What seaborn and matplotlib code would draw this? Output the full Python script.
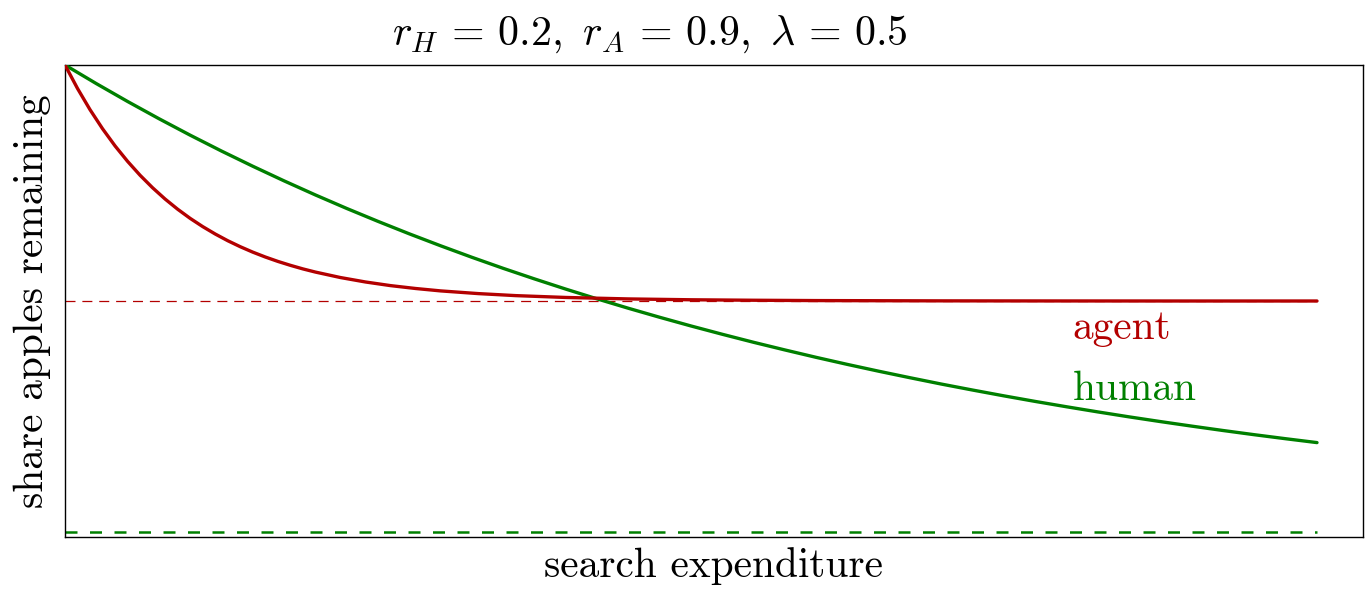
import matplotlib
matplotlib.use("Agg")
import matplotlib.pyplot as plt
import seaborn as sns
import numpy as np
import pandas as pd

# ---- data ----
human_x = [0.0, 0.25, 0.5, 0.75, 1.0, 1.25, 1.5, 1.75, 2.0, 2.25, 2.5, 2.75,
           3.0, 3.25, 3.5, 3.75, 4.0, 4.25, 4.5, 4.75, 5.0, 5.25, 5.5, 5.75,
           6.0, 6.25, 6.5, 6.75, 7.0, 7.25, 7.5, 7.75, 8.0, 8.25, 8.5, 8.75,
           9.0, 9.25, 9.5, 9.75, 10.0]
human_y = [1.0000, 0.9606, 0.9227, 0.8863, 0.8513, 0.8177, 0.7855, 0.7545,
           0.7247, 0.6961, 0.6687, 0.6423, 0.6170, 0.5926, 0.5692, 0.5468,
           0.5252, 0.5045, 0.4846, 0.4655, 0.4471, 0.4295, 0.4125, 0.3963,
           0.3806, 0.3656, 0.3512, 0.3374, 0.3240, 0.3113, 0.2990, 0.2872,
           0.2759, 0.2650, 0.2545, 0.2445, 0.2349, 0.2256, 0.2167, 0.2082,
           0.2000]

agent_x = [0.0, 0.1, 0.2, 0.3, 0.4, 0.5, 0.6, 0.7, 0.8, 0.9, 1.0, 1.1, 1.2,
           1.3, 1.4, 1.5, 1.6, 1.7, 1.8, 1.9, 2.0, 2.2, 2.4, 2.6, 2.8, 3.0,
           3.3, 3.6, 4.0, 4.5, 5.0, 5.5, 6.0, 7.0, 8.0, 9.0, 10.0]
agent_y = [1.0000, 0.9502, 0.9053, 0.8649, 0.8285, 0.7958, 0.7663, 0.7398,
           0.7159, 0.6944, 0.6750, 0.6576, 0.6419, 0.6277, 0.6150, 0.6035,
           0.5932, 0.5839, 0.5756, 0.5680, 0.5613, 0.5497, 0.5403, 0.5326,
           0.5265, 0.5214, 0.5157, 0.5114, 0.5075, 0.5044, 0.5026, 0.5016,
           0.5009, 0.5003, 0.5001, 0.5000, 0.5000]

agent_floor = 0.5
human_floor = 0.01
x_span = [0.0, 10.0]

title_text = r"$r_H\,=\,0.2,\ r_A\,=\,0.9,\ \lambda\,=\,0.5$"
xlabel_text = "search expenditure"
ylabel_text = "share apples remaining"
agent_label = "agent"
human_label = "human"

RED = "#b30000"
GREEN = "#008000"
FS = 29.7

sns.set_style("white")
plt.rcParams["font.family"] = ["cmr10", "DejaVu Serif"]
plt.rcParams["mathtext.fontset"] = "cm"
plt.rcParams["axes.formatter.use_mathtext"] = True
plt.rcParams["text.color"] = "black"
plt.rcParams["axes.labelcolor"] = "black"

W, H = 1365, 603
fig = plt.figure(figsize=(W / 100, H / 100), dpi=100)
ax = fig.add_axes([65 / W, (H - 537) / H, 1298 / W, 472 / H])

df_h = pd.DataFrame({"x": human_x, "y": human_y})
df_a = pd.DataFrame({"x": agent_x, "y": agent_y})

# asymptote lines
ax.plot(x_span, [agent_floor, agent_floor], color=RED, lw=0.9,
        linestyle=(0, (8, 5.5)), zorder=1)
ax.plot(x_span, [human_floor, human_floor], color=GREEN, lw=1.8,
        linestyle=(0, (4.8, 5.0)), zorder=1)

sns.lineplot(data=df_h, x="x", y="y", color=GREEN, lw=2.4, ax=ax,
             sort=False, estimator=None, zorder=3)
sns.lineplot(data=df_a, x="x", y="y", color=RED, lw=2.4, ax=ax,
             sort=False, estimator=None, zorder=4)

ax.set_xlim(0, 1298 / 125.2)
ax.set_ylim(0, 1)
ax.set_xticks([])
ax.set_yticks([])
for s in ax.spines.values():
    s.set_visible(True)
    s.set_color("black")
    s.set_linewidth(1.0)

ax.set_xlabel(xlabel_text, fontsize=FS, labelpad=7, color="black")
ax.set_ylabel(ylabel_text, fontsize=FS, labelpad=10, color="black")

ax.text(8.05, 0.419, agent_label, color=RED, fontsize=FS, va="baseline", ha="left")
ax.text(8.05, 0.290, human_label, color=GREEN, fontsize=FS, va="baseline", ha="left")

fig.text(650 / W, 1 - 45 / H, title_text, fontsize=FS + 0.5, ha="center",
         va="baseline", color="black")

fig.savefig("out.png", dpi=100)
